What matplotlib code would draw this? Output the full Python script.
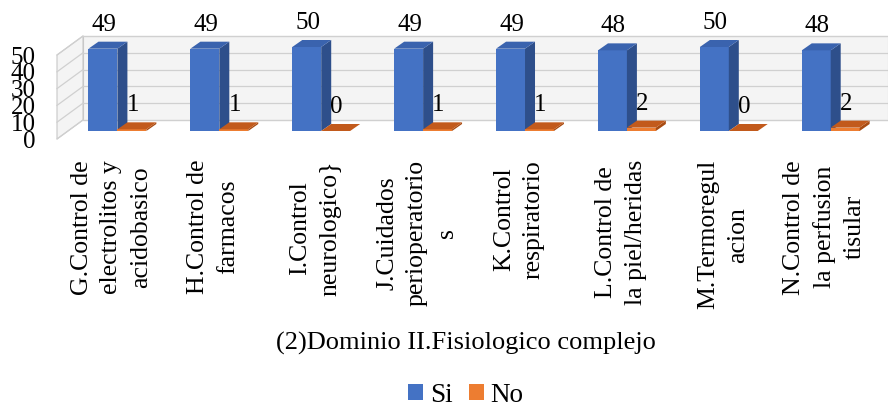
import matplotlib
matplotlib.use("Agg")
import matplotlib.pyplot as plt
from matplotlib.patches import Polygon, Patch
from matplotlib.transforms import ScaledTranslation, IdentityTransform, blended_transform_factory

# ---- data ----
categories = [
    "G.Control de\nelectrolitos y\nacidobasico",
    "H.Control de\nfarmacos",
    "I.Control\nneurologico}",
    "J.Cuidados\nperioperatorio\ns",
    "K.Control\nrespiratorio",
    "L.Control de\nla piel/heridas",
    "M.Termoregul\nacion",
    "N.Control de\nla perfusion\ntisular",
]
si_values = [49, 49, 50, 49, 49, 48, 50, 48]
no_values = [1, 1, 0, 1, 1, 2, 0, 2]
series_names = ["Si", "No"]
y_ticks = [0, 10, 20, 30, 40, 50]
x_title = "(2)Dominio II.Fisiologico complejo"

# ---- styling ----
W, H, DPI = 888, 408, 100
plt.rcParams["font.family"] = ["Liberation Serif", "DejaVu Serif"]
FS = 18

BLUE = {"front": "#4472C4", "top": "#3A63AE", "side": "#2E4F8B"}
ORANGE = {"front": "#ED7D31", "top": "#C25A1C", "side": "#A84B12"}

fig = plt.figure(figsize=(W / DPI, H / DPI), dpi=DPI)

# front plane of the 3-D box
ax = fig.add_axes([57 / W, (H - 139) / H, (862 - 57) / W, 84 / H])
ax.set_xlim(-0.48, 7.42)
ax.set_ylim(0, 50)
ax.patch.set_visible(False)
for s in ax.spines.values():
    s.set_visible(False)
ax.set_xticks([])
ax.set_yticks(y_ticks)
ax.set_yticklabels([str(t) for t in y_ticks])
ax.tick_params(axis="y", length=0, pad=15.5, labelsize=FS)


def shift(dx, dy):
    return ScaledTranslation(dx / DPI, dy / DPI, fig.dpi_scale_trans)


wall_tf = ax.transData + shift(26, 19)   # back wall
bar_tf = ax.transData + shift(11.5, 8)   # front face of the bars
DEPTH = (10, 7)                          # bar depth in pixels
ident = IdentityTransform()

x0, x1 = ax.get_xlim()
y0, y1 = ax.get_ylim()

# back wall
back = [wall_tf.transform(p) for p in [(x0, y0), (x1, y0), (x1, y1), (x0, y1)]]
ax.add_patch(Polygon(back, closed=True, facecolor="#F4F4F4", edgecolor="#C8C8C8",
                     lw=0.8, transform=ident, clip_on=False, zorder=0))
# left wall
left = [ax.transData.transform((x0, y0)), ax.transData.transform((x0, y1)),
        wall_tf.transform((x0, y1)), wall_tf.transform((x0, y0))]
ax.add_patch(Polygon(left, closed=True, facecolor="#F4F4F4", edgecolor="#C8C8C8",
                     lw=0.8, transform=ident, clip_on=False, zorder=0))
# gridlines on both walls
for v in y_ticks:
    ax.plot([x0, x1], [v, v], color="#D0D0D0", lw=0.9, transform=wall_tf,
            clip_on=False, zorder=1)
    a = ax.transData.transform((x0, v))
    b = wall_tf.transform((x0, v))
    ax.plot([a[0], b[0]], [a[1], b[1]], color="#D0D0D0", lw=0.9,
            transform=ident, clip_on=False, zorder=1)

w = 0.284


def draw_bar(xc, val, col, z):
    ax.bar(xc, val, width=w, color=col["front"], transform=bar_tf,
           clip_on=False, zorder=z, linewidth=0)
    xl, xr = xc - w / 2, xc + w / 2
    dx, dy = DEPTH
    tl = bar_tf.transform((xl, val))
    tr = bar_tf.transform((xr, val))
    br = bar_tf.transform((xr, 0))
    top = [tl, tr, (tr[0] + dx, tr[1] + dy), (tl[0] + dx, tl[1] + dy)]
    side = [br, tr, (tr[0] + dx, tr[1] + dy), (br[0] + dx, br[1] + dy)]
    ax.add_patch(Polygon(side, closed=True, facecolor=col["side"], lw=0,
                         transform=ident, clip_on=False, zorder=z))
    ax.add_patch(Polygon(top, closed=True, facecolor=col["top"], lw=0,
                         transform=ident, clip_on=False, zorder=z + 0.5))


for i in range(len(categories)):
    xb = i - w / 2
    xo = i + w / 2
    draw_bar(xb, si_values[i], BLUE, 3 + 2 * i)
    draw_bar(xo, no_values[i], ORANGE, 4 + 2 * i)
    for xc, v in ((xb, si_values[i]), (xo, no_values[i])):
        ax.annotate(str(v), xy=(xc, v), xycoords=bar_tf, xytext=(1, 24),
                    textcoords="offset pixels", ha="center", va="center",
                    fontsize=FS, zorder=30, annotation_clip=False)

# category labels, rotated
cat_tf = blended_transform_factory(ax.transData, fig.transFigure) + shift(5.5, 0)
for i, cat in enumerate(categories):
    ax.text(i, (H - 160) / H, cat, transform=cat_tf, rotation=90, ha="center",
            va="top", multialignment="center", fontsize=18.5, linespacing=1.45)

# axis title
fig.text(466 / W, (H - 343) / H, x_title, ha="center", va="center", fontsize=19)

# legend
handles = [Patch(facecolor=BLUE["front"]), Patch(facecolor=ORANGE["front"])]
fig.legend(handles, series_names, loc="center", bbox_to_anchor=(466 / W, 13 / H),
           ncol=2, frameon=False, fontsize=19.5, handlelength=0.55, handleheight=0.55,
           handletextpad=0.25, columnspacing=0.6, borderpad=0)

fig.savefig("out.png", dpi=DPI)
